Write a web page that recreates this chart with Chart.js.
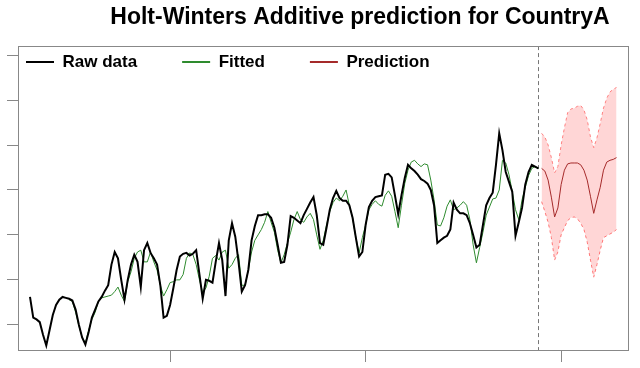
<!DOCTYPE html>
<html><head><meta charset="utf-8">
<script src="https://cdn.jsdelivr.net/npm/chart.js@4/dist/chart.umd.min.js"></script>
<style>html,body{margin:0;padding:0;background:#fff}#wrap{width:640px;height:368px}</style>
</head><body><div id="wrap"><canvas id="c" width="640" height="368"></canvas></div>
<script>
// ---- data (monthly, values) ----
const startYear = 2001, startMonth = 6;
const seriesNames = ['Raw data', 'Fitted', 'Prediction'];
const rawData = [
 131,108,106,103,89,77,94,111,122,128,
 131,130,129,127,117,100,86,78,92,108,
 117,126,131,138,144,167,181,174,150,128,
 150,167,178,170,142,183,191,180,174,167,
 144,108,110,122,141,161,176,179,180,177,
 179,183,156,129,150,149,147,170,191,172,
 132,194,213,198,170,137,144,161,194,210,
 222,222,223,223,219,208,189,169,170,189,
 221,219,216,213,222,229,236,242,222,191,
 189,208,228,241,249,241,238,238,233,219,
 197,176,181,211,231,238,242,243,244,267,
 268,264,244,223,244,263,278,274,271,267,
 262,260,257,250,233,191,194,197,199,206,
 236,228,224,224,222,213,200,186,189,211,
 233,241,247,278,313,294,270,259,248,199,
 214,230,256,270,278,276,274];
const fittedStart = 12;
const fittedData = [
 128,126,114,99,86,80,94,106,114,126,
 130,131,132,133,137,142,133,126,148,159,
 174,181,183,170,170,181,170,161,144,132,
 139,147,148,150,150,156,174,180,178,167,
 150,136,141,154,174,177,172,181,183,163,
 167,174,178,144,144,161,181,194,200,206,
 214,226,214,203,183,169,178,191,203,217,
 226,217,214,220,224,217,200,184,194,211,
 226,236,241,238,243,250,233,219,197,180,
 197,211,228,234,238,234,232,244,249,243,
 226,208,233,257,272,281,283,279,276,279,
 278,261,239,211,210,219,232,239,228,230,
 233,237,233,217,189,169,186,203,222,231,
 240,241,250,283,280,267,248,228,217,239,
 253,266,274,276,274];
const predStart = 157;
const predData  = [274,271,261,242,220,230,256,272,279,280,280,280,278,272,261,243,224,239,253,272,281,283,284,286];
const predUpper = [313,309,300,286,269,276,300,319,336,340,341,343,344,339,328,309,297,308,324,341,352,359,362,364];
const predLower = [237,226,214,197,172,181,200,208,216,219,220,218,213,206,192,172,153,167,183,197,199,201,203,206];
const xTicks = [2005, 2010, 2015];
const yTicks = [100, 150, 200, 250, 300, 350, 400];

// ---- helpers ----
const FONT = 'Liberation Sans, Arial, Helvetica, sans-serif';
const t = i => startYear + (startMonth - 1 + i) / 12;
const pts = (arr, off) => arr.map((v, k) => ({ x: t(off + k), y: v }));
const lineColors = ['#000000', '#2e8b2e', '#a52a2a'];

Chart.defaults.font.family = FONT;

const framePlugin = {
  id: 'frame',
  beforeDatasetsDraw(chart) {
    const { ctx, chartArea: a, scales } = chart;
    const xp = Math.round(scales.x.getPixelForValue(t(rawData.length - 1))) + 0.5;
    ctx.save();
    ctx.strokeStyle = '#777';
    ctx.lineWidth = 1;
    ctx.setLineDash([4, 3]);
    ctx.beginPath(); ctx.moveTo(xp, a.top); ctx.lineTo(xp, a.bottom); ctx.stroke();
    ctx.restore();
  },
  afterDraw(chart) {
    const { ctx, chartArea: a } = chart;
    ctx.save();
    ctx.strokeStyle = '#888';
    ctx.lineWidth = 1;
    ctx.strokeRect(Math.round(a.left) + 0.5, Math.round(a.top) + 0.5,
                   Math.round(a.right - a.left), Math.round(a.bottom - a.top));
    ctx.restore();
  }
};

const placePlugin = {
  id: 'place',
  afterLayout(chart) {
    const lg = chart.legend;
    if (lg) { lg.left = -19; lg.right = 700; lg.top = 8.5; lg.bottom = 120; lg.width = 719; lg.height = 111.5; }
    const tb = chart.titleBlock;
    if (tb) { tb.left = 80; tb.right = 640; tb.width = 560; }
  }
};

new Chart(document.getElementById('c'), {
  type: 'line',
  data: {
    datasets: [
      { label: seriesNames[0], data: pts(rawData, 0), borderColor: lineColors[0], backgroundColor: lineColors[0], borderWidth: 2, pointRadius: 0, fill: false, tension: 0 },
      { label: seriesNames[1], data: pts(fittedData, fittedStart), borderColor: lineColors[1], backgroundColor: lineColors[1], borderWidth: 1, pointRadius: 0, fill: false, tension: 0 },
      { label: seriesNames[2], data: pts(predData, predStart), borderColor: lineColors[2], backgroundColor: lineColors[2], borderWidth: 1, pointRadius: 0, fill: false, tension: 0 },
      { label: 'upper', data: pts(predUpper, predStart), borderColor: '#ff8080', borderDash: [3, 3], borderWidth: 1, pointRadius: 0, backgroundColor: 'rgba(255,0,0,0.16)', fill: '+1', tension: 0 },
      { label: 'lower', data: pts(predLower, predStart), borderColor: '#ff8080', borderDash: [3, 3], borderWidth: 1, pointRadius: 0, fill: false, tension: 0 }
    ]
  },
  options: {
    responsive: false,
    animation: false,
    devicePixelRatio: 1,
    layout: { padding: { left: 7, right: 12, top: 0, bottom: 6 } },
    plugins: {
      title: {
        display: true,
        text: 'Holt-Winters Additive prediction for CountryA',
        color: '#000',
        font: { family: FONT, size: 23, weight: 'bold', lineHeight: 1.2 },
        padding: { top: 4, bottom: 14 }
      },
      legend: {
        display: true,
        position: 'top',
        align: 'start',
        maxHeight: 0.5,
        labels: {
          color: '#000',
          font: { family: FONT, size: 17, weight: 'bold' },
          boxWidth: 28,
          boxHeight: 2,
          padding: 45,
          generateLabels: (chart) =>
            Chart.defaults.plugins.legend.labels.generateLabels(chart)
              .filter(l => l.datasetIndex < 3)
              .map(l => Object.assign(l, { fillStyle: lineColors[l.datasetIndex], strokeStyle: lineColors[l.datasetIndex], lineWidth: 0 }))
        }
      },
      tooltip: { enabled: false }
    },
    scales: {
      x: {
        type: 'linear',
        min: 2001.11, max: 2016.71,
        afterBuildTicks: s => { s.ticks = xTicks.map(v => ({ value: v })); },
        ticks: { display: false },
        grid: { display: true, drawOnChartArea: false, drawTicks: true, tickLength: 12, color: '#888' },
        border: { display: true, color: '#888', width: 1 }
      },
      y: {
        type: 'linear',
        min: 72, max: 410,
        afterBuildTicks: s => { s.ticks = yTicks.map(v => ({ value: v })); },
        ticks: { display: false },
        grid: { display: true, drawOnChartArea: false, drawTicks: true, tickLength: 11, color: '#888' },
        border: { display: true, color: '#888', width: 1 }
      }
    }
  },
  plugins: [framePlugin, placePlugin]
});
</script>
</body></html>
